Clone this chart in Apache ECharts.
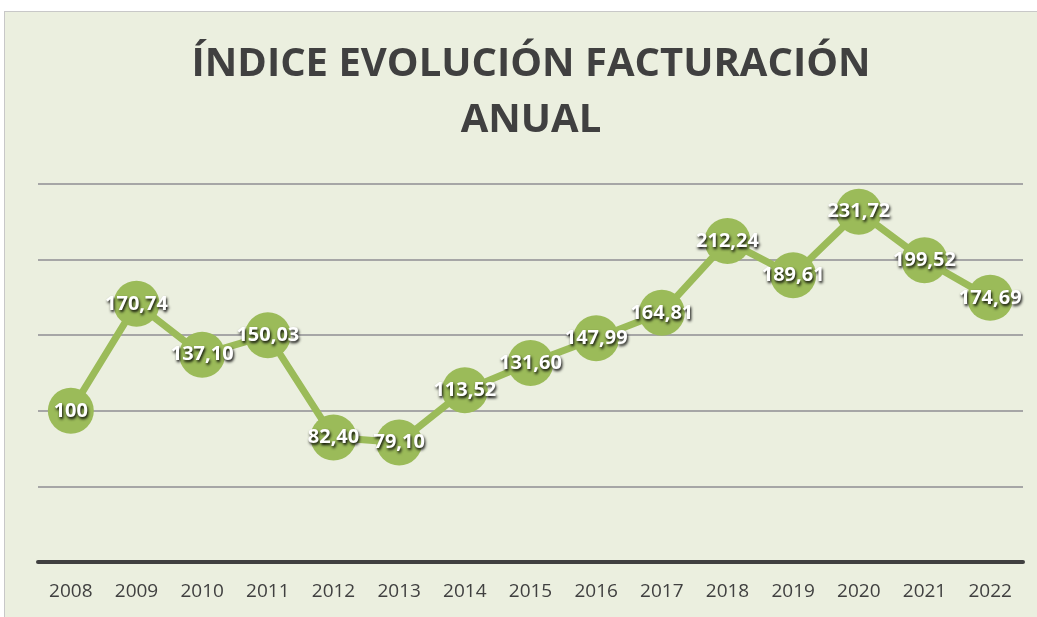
<!DOCTYPE html>
<html>
	<head>
		<meta charset="UTF-8">
		<title>Índice evolución facturación anual</title>
		<script src="https://cdn.jsdelivr.net/npm/echarts@6/dist/echarts.min.js" type="text/javascript" charset="utf-8"></script>
		<style>
			html, body { margin: 0; padding: 0; background: #fff; }
			#chart { position: absolute; left: 4px; top: 11px; width: 1033px; height: 606px;
				box-sizing: border-box; border: 1px solid #c8c8c8; border-right: none; border-bottom: none; }
		</style>
	</head>
	<body>
		<div id="chart"></div>
	</body>
	<script type="text/javascript">
		// datos
		var years = ['2008', '2009', '2010', '2011', '2012', '2013', '2014', '2015',
			'2016', '2017', '2018', '2019', '2020', '2021', '2022'];
		var indice = [100, 170.74, 137.10, 150.03, 82.40, 79.10, 113.52, 131.60,
			147.99, 164.81, 212.24, 189.61, 231.72, 199.52, 174.69];

		var chart = echarts.init(document.getElementById('chart'));
		var font = '"Open Sans", sans-serif';

		chart.setOption({
			backgroundColor: '#EBEFDF',
			title: {
				text: 'ÍNDICE EVOLUCIÓN FACTURACIÓN\nANUAL',
				left: 521,
				textAlign: 'center',
				top: 20,
				textStyle: {
					fontFamily: font,
					fontSize: 40,
					fontWeight: 'bold',
					color: '#404040',
					lineHeight: 56
				}
			},
			grid: { left: 33, right: 14, top: 172, bottom: 55 },
			xAxis: {
				type: 'category',
				data: years,
				axisTick: { show: false },
				axisLine: { lineStyle: { color: '#404040', width: 4 } },
				axisLabel: { color: '#404040', fontSize: 19, fontFamily: font, margin: 20 }
			},
			yAxis: {
				type: 'value',
				min: 0,
				max: 250,
				interval: 50,
				axisLabel: { show: false },
				axisLine: { show: false },
				splitLine: { lineStyle: { color: '#A6A6A6', width: 2 } }
			},
			series: [{
				type: 'line',
				data: indice,
				symbol: 'circle',
				symbolSize: 46,
				itemStyle: { color: '#9BBB59' },
				lineStyle: { color: '#9BBB59', width: 7 },
				label: {
					show: true,
					position: 'inside',
					formatter: function (p) {
						return p.value === 100 ? '100' : p.value.toFixed(2).replace('.', ',');
					},
					color: '#fff',
					fontFamily: font,
					fontSize: 20,
					fontWeight: 'bold',
					textShadowColor: '#000',
					textShadowBlur: 3,
					textShadowOffsetX: 1,
					textShadowOffsetY: 2
				}
			}]
		});
	</script>
</html>
